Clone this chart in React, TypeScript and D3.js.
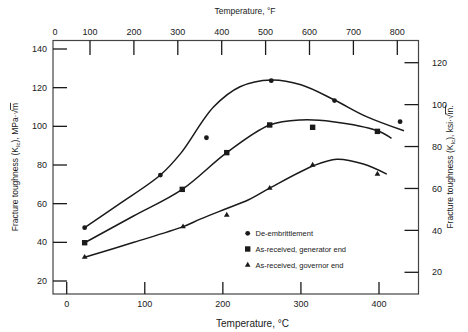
import React from "react";
import * as d3 from "d3";

const leftTicks = [20, 40, 60, 80, 100, 120, 140];
const rightTicks = [20, 40, 60, 80, 100, 120];
const cTicks = [0, 100, 200, 300, 400];
const fTicks = [0, 100, 200, 300, 400, 500, 600, 700, 800];

// Measured data points (°C, MPa√m)
const deEmbT = [23, 120, 179, 262, 343, 427];
const deEmbK = [47.6, 74.8, 94.1, 123.6, 113.3, 102.4];
const genT = [23, 148, 205, 260, 315, 398];
const genK = [39.8, 67.4, 86.4, 100.7, 99.5, 97.4];
const govT = [23, 149, 205, 260, 315, 398];
const govK = [32.3, 48.1, 54.1, 68, 80, 75.3];

// Fitted trend curves (°C, MPa√m)
const deEmbCurveT = [23, 68, 120, 146, 188, 222, 262, 300, 343, 384, 432];
const deEmbCurveK = [47.6, 60, 74.8, 86, 110, 120.5, 124, 121.5, 113.6, 105, 97.7];
const genCurveT = [23, 85, 148, 205, 260, 300, 341, 398, 416];
const genCurveK = [39.8, 53.5, 67.4, 86.4, 100.7, 103.3, 102.4, 97.7, 93.8];
const govCurveT = [23, 86, 149, 171, 205, 233, 260, 316, 346, 380, 410];
const govCurveK = [32.3, 40, 48.1, 52, 57.5, 62, 68, 79.6, 83, 80.5, 75.3];

const legendLabels = ["De-embrittlement", "As-received, generator end", "As-received, governor end"];

const FONT = "'Liberation Sans', Arial, sans-serif";
const INK = "#1a1a1a";

export default function App() {
  const L = 53, R = 418.5, T = 40.5, B = 294;
  const x = d3.scaleLinear().domain([0, 400]).range([66.7, 379]);
  const xF = d3.scaleLinear().domain([0, 100, 800]).range([55, 90, 397.3]);
  const y = d3.scaleLinear().domain([20, 140]).range([281, 49]);
  const yR = d3.scaleLinear().domain([20, 120]).range([272.3, 62.7]);

  const line = d3
    .line<[number, number]>()
    .x((d) => x(d[0]))
    .y((d) => y(d[1]))
    .curve(d3.curveCatmullRom.alpha(0.5));

  const zip = (a: number[], b: number[]) => a.map((v, i) => [v, b[i]] as [number, number]);

  const curves = [
    zip(deEmbCurveT, deEmbCurveK),
    zip(genCurveT, genCurveK),
    zip(govCurveT, govCurveK),
  ];

  const tri = d3.symbol().type(d3.symbolTriangle).size(14)() as string;

  const marker = (kind: number, cx: number, cy: number, key: string) => {
    if (kind === 0) return <circle key={key} cx={cx} cy={cy} r={2.4} fill={INK} />;
    if (kind === 1) return <rect key={key} x={cx - 2.7} y={cy - 2.7} width={5.4} height={5.4} fill={INK} />;
    return <path key={key} d={tri} transform={`translate(${cx},${cy})`} fill={INK} />;
  };

  const points = [zip(deEmbT, deEmbK), zip(genT, genK), zip(govT, govK)];

  const legendX = 247.7;
  const legendY = [233.3, 249, 265];

  return (
    <svg width={468} height={332} style={{ position: "absolute", left: 0, top: 0, background: "#fff" }} fontFamily={FONT}>
      <rect width={468} height={332} fill="#fff" />
      {/* frame */}
      <rect x={L} y={T} width={R - L} height={B - T} fill="none" stroke="#444" strokeWidth={1.2} />

      {/* left axis */}
      {leftTicks.map((t) => (
        <g key={"l" + t}>
          <line x1={L} x2={L + 14} y1={y(t)} y2={y(t)} stroke={INK} strokeWidth={1.3} />
          <text x={47} y={y(t)} dy="0.35em" textAnchor="end" fontSize={9} fill={INK}>
            {t}
          </text>
        </g>
      ))}
      {/* right axis */}
      {rightTicks.map((t) => (
        <g key={"r" + t}>
          <line x1={R - 14} x2={R} y1={yR(t)} y2={yR(t)} stroke={INK} strokeWidth={1.3} />
          <text x={432} y={yR(t)} dy="0.35em" textAnchor="start" fontSize={9} fill={INK}>
            {t}
          </text>
        </g>
      ))}
      {/* bottom axis */}
      {cTicks.map((t) => (
        <g key={"c" + t}>
          <line x1={x(t)} x2={x(t)} y1={B} y2={B - 12} stroke={INK} strokeWidth={1.3} />
          <text x={x(t)} y={307} textAnchor="middle" fontSize={9} fill={INK}>
            {t}
          </text>
        </g>
      ))}
      {/* top axis */}
      {fTicks.map((t) => (
        <g key={"f" + t}>
          {t > 0 && <line x1={xF(t)} x2={xF(t)} y1={T} y2={T + 14.5} stroke={INK} strokeWidth={1.3} />}
          <text x={xF(t)} y={34.5} textAnchor="middle" fontSize={9} fill={INK}>
            {t}
          </text>
        </g>
      ))}

      {/* axis titles */}
      <text x={245} y={14} textAnchor="middle" fontSize={8.5} fill={INK}>
        Temperature, °F
      </text>
      <text x={252.5} y={326.5} textAnchor="middle" fontSize={10} fill={INK}>
        Temperature, °C
      </text>
      <text transform="translate(18,167) rotate(-90)" textAnchor="middle" fontSize={8.5} fill={INK}>
        Fracture toughness (K
        <tspan fontSize={6} dy={2}>Ic</tspan>
        <tspan dy={-2}>), MPa·√</tspan>
        <tspan textDecoration="overline">m</tspan>
      </text>
      <text transform="translate(453,167) rotate(-90)" textAnchor="middle" fontSize={8.5} fill={INK}>
        Fracture toughness (K
        <tspan fontSize={6} dy={2}>Ic</tspan>
        <tspan dy={-2}>), ksi·√</tspan>
        <tspan textDecoration="overline">in.</tspan>
      </text>

      {/* curves */}
      {curves.map((c, i) => (
        <path key={"curve" + i} d={line(c) as string} fill="none" stroke={INK} strokeWidth={1.5} />
      ))}

      {/* points */}
      {points.map((ps, k) => ps.map((p, i) => marker(k, x(p[0]), y(p[1]), `m${k}-${i}`)))}

      {/* legend */}
      {legendLabels.map((lab, i) => (
        <g key={"lg" + i}>
          {marker(i, legendX, legendY[i], "lgm" + i)}
          <text x={255.5} y={legendY[i]} dy="0.35em" fontSize={7.5} fill={INK}>
            {lab}
          </text>
        </g>
      ))}
    </svg>
  );
}
